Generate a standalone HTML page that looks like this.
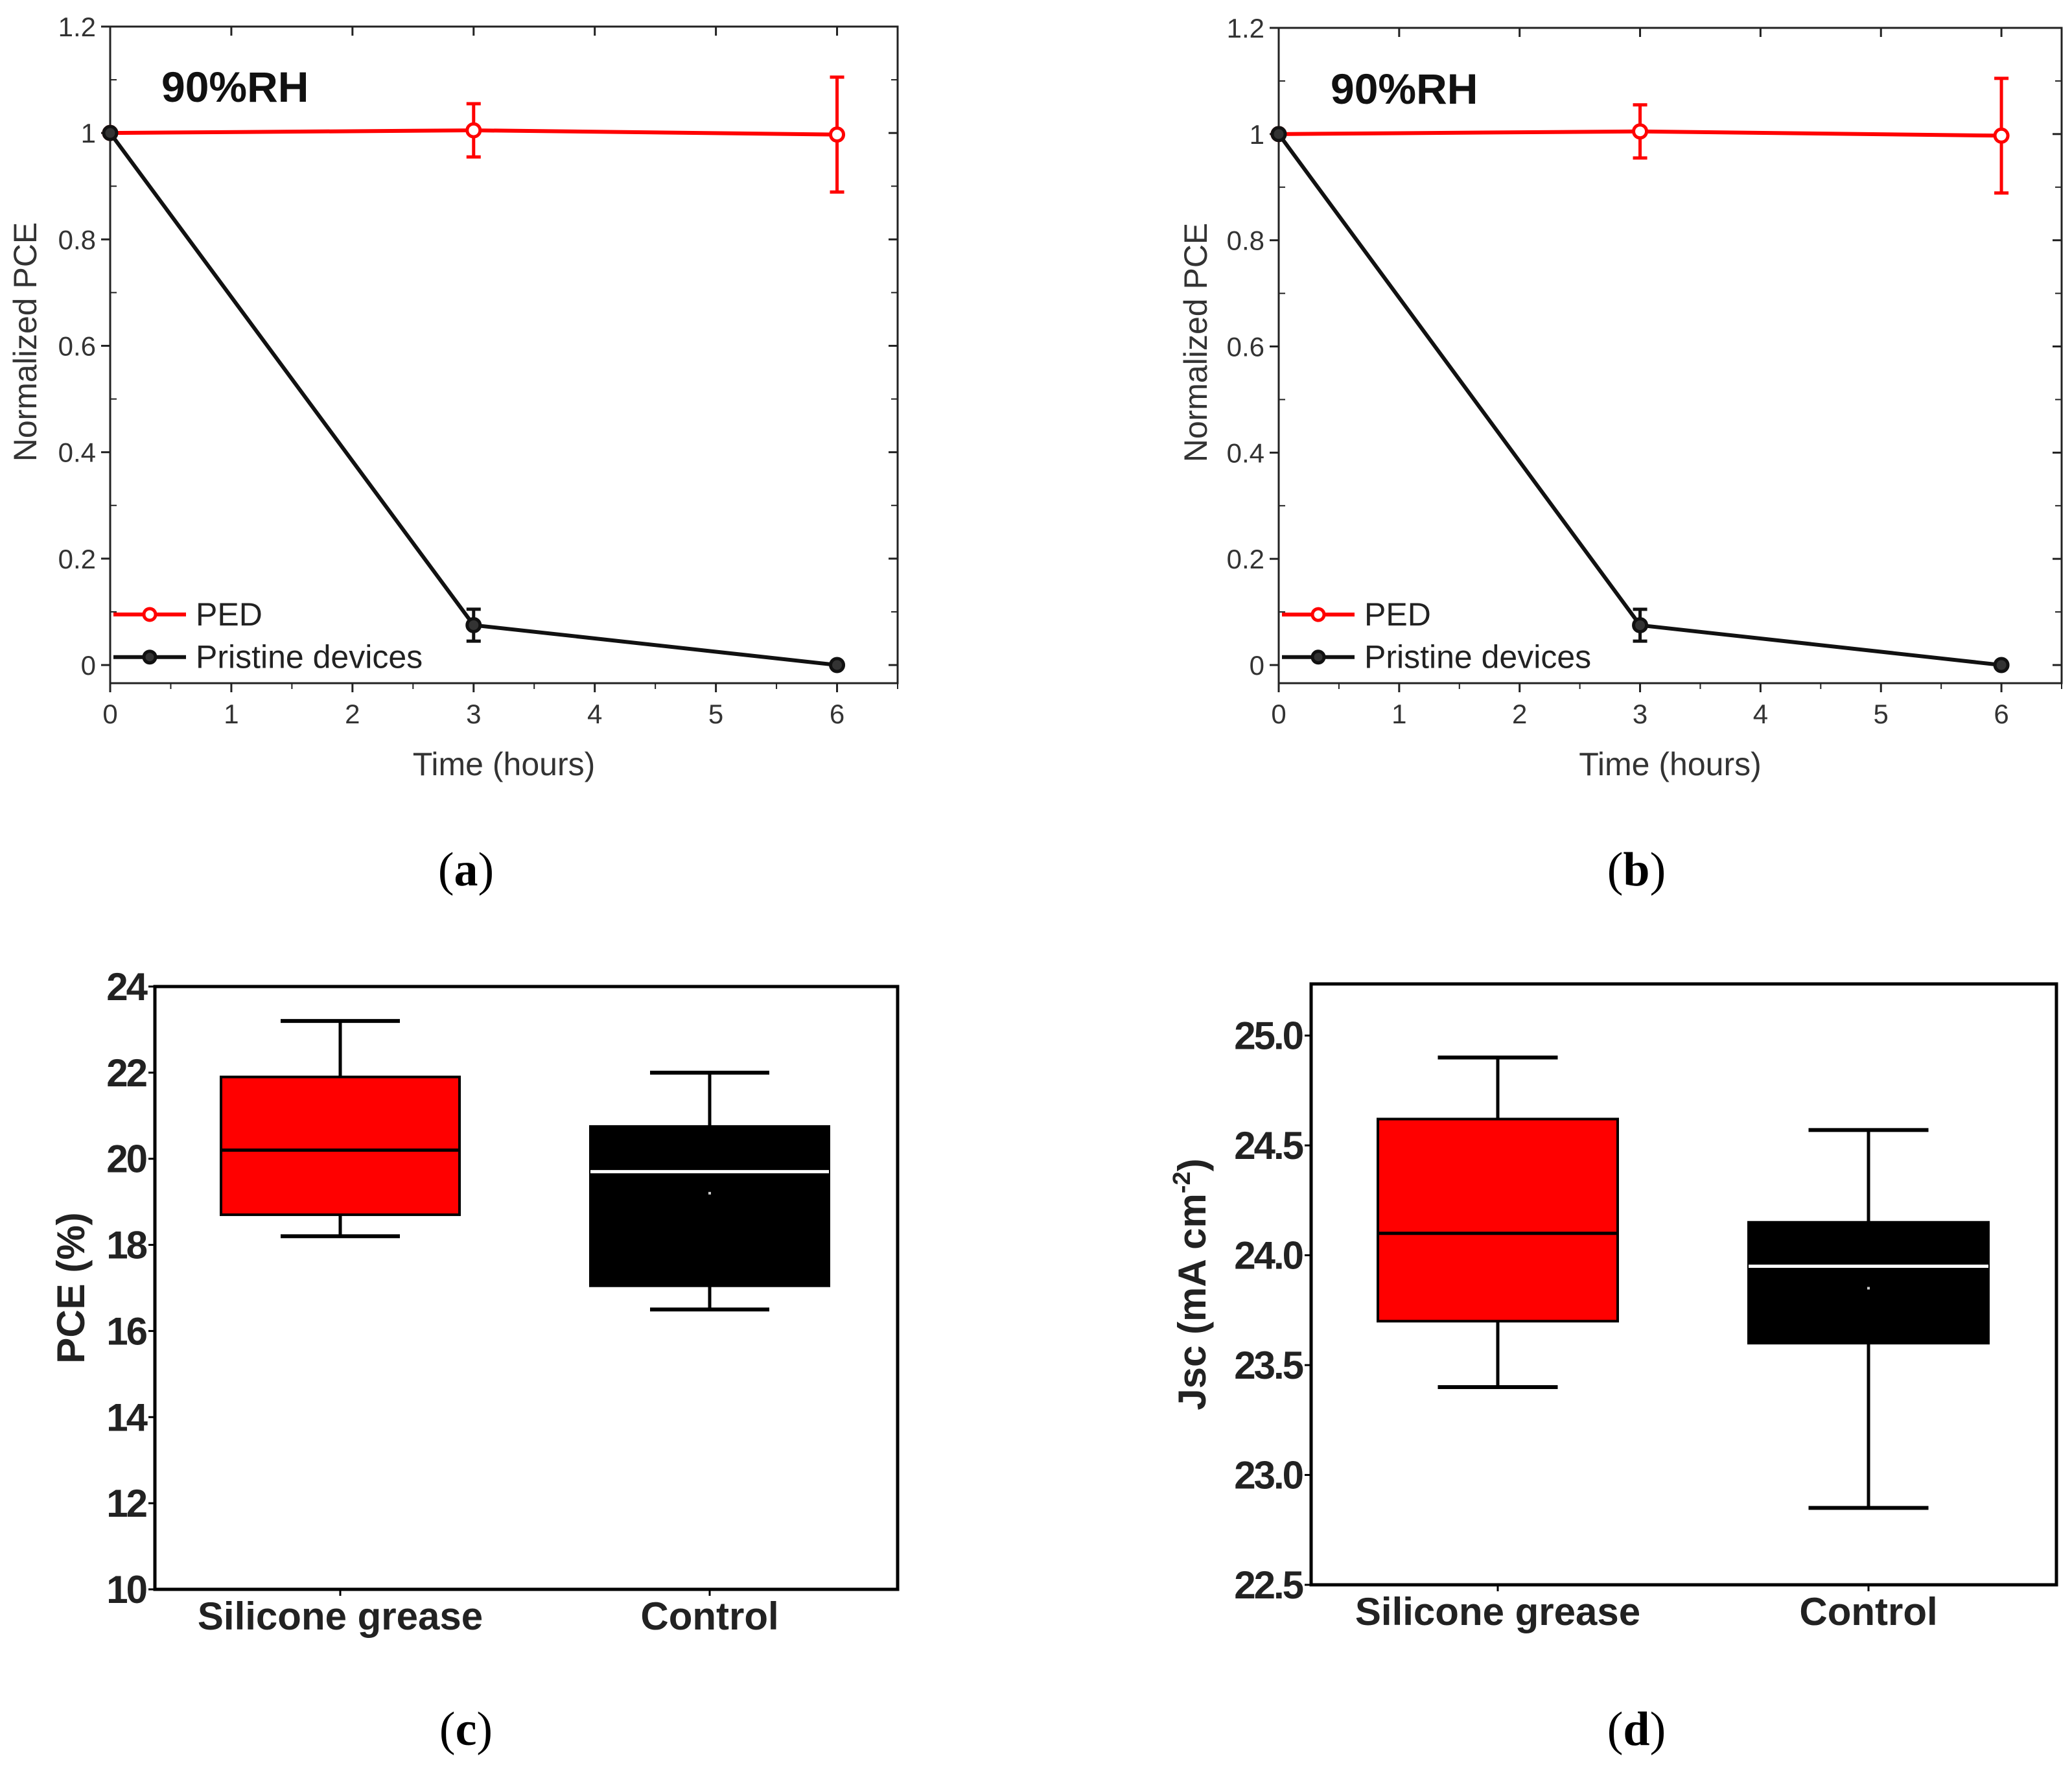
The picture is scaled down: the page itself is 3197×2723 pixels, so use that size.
<!DOCTYPE html>
<html><head><meta charset="utf-8">
<style>
html,body{margin:0;padding:0;background:#fff;}
svg{display:block;font-family:"Liberation Sans",Arial,sans-serif;}
</style></head>
<body>
<svg id="fig" width="3197" height="2723" viewBox="0 0 3197 2723" xmlns="http://www.w3.org/2000/svg">
<rect width="3197" height="2723" fill="#fff"/>
<g id="root"></g>
</svg>
<script>
// ---- data: panels a & b ----
const timeHours = [0, 3, 6];
const pedValues = [1.0, 1.005, 0.997];
const pedErrors = [0, 0.05, 0.108];
const pristineValues = [1.0, 0.075, 0.0];
const pristineErrors = [0, 0.03, 0];
const xTickLabels = ["0","1","2","3","4","5","6"];
const yTickLabelsAB = ["0","0.2","0.4","0.6","0.8","1","1.2"];
// ---- data: panel c ----
const boxCategories = ["Silicone grease", "Control"];
const pceWhiskerHigh = [23.2, 22.0];
const pceQ3 = [21.9, 20.75];
const pceMedian = [20.2, 19.7];
const pceQ1 = [18.7, 17.05];
const pceWhiskerLow = [18.2, 16.5];
const pceMean = [20.3, 19.2];
const pceTicks = ["10","12","14","16","18","20","22","24"];
// ---- data: panel d ----
const jscWhiskerHigh = [24.9, 24.57];
const jscQ3 = [24.62, 24.15];
const jscMedian = [24.1, 23.95];
const jscQ1 = [23.7, 23.6];
const jscWhiskerLow = [23.4, 22.85];
const jscMean = [24.15, 23.85];
const jscTicks = ["22.5","23.0","23.5","24.0","24.5","25.0"];

const NS = "http://www.w3.org/2000/svg";
const root = document.getElementById('root');
function mk(tag, attrs, parent, text){
  const e = document.createElementNS(NS, tag);
  for (const k in attrs) e.setAttribute(k, attrs[k]);
  if (text !== undefined) e.textContent = text;
  (parent || root).appendChild(e);
  return e;
}

function linePanel(id, L, R, T, B, xMax, yMin, yMax, rhX, rhY, ytitleX){
  const g = mk('g', {});
  
  
  const x6 = L + (R - L) * 6 / 6.5;
  const sx = v => L + (x6 - L) * v / 6;
  const sy = v => B - 28 - (B - 28 - T) * (v - yMin) / (yMax - yMin);
  const fr = mk('rect', {x:L, y:T, width:R-L, height:B-T, fill:'none', stroke:'#222', 'stroke-width':3}, g);
  
  
  yTickLabelsAB.forEach((lab, i) => {
    const v = i * 0.2, y = sy(v);
    mk('line', {x1:L-14, x2:L, y1:y, y2:y, stroke:'#222', 'stroke-width':3}, g);
    mk('line', {x1:R-14, x2:R, y1:y, y2:y, stroke:'#222', 'stroke-width':3}, g);
    const mv = sy(v + 0.1);
    if (i < 6) { mk('line', {x1:L, x2:L+10, y1:mv, y2:mv, stroke:'#222', 'stroke-width':2}, g);
                 mk('line', {x1:R-10, x2:R, y1:mv, y2:mv, stroke:'#222', 'stroke-width':2}, g); }
    const t = mk('text', {x:L-22, y:y+15, 'text-anchor':'end', 'font-size':42, fill:'#333'}, g, lab);
    
    
  });
  xTickLabels.forEach((lab, i) => {
    const x = sx(i);
    mk('line', {x1:x, x2:x, y1:B, y2:B+14, stroke:'#222', 'stroke-width':3}, g);
    mk('line', {x1:x, x2:x, y1:T, y2:T+14, stroke:'#222', 'stroke-width':3}, g);
    const mx = sx(i + 0.5);
    mk('line', {x1:mx, x2:mx, y1:B, y2:B+9, stroke:'#222', 'stroke-width':2}, g);
    const t = mk('text', {x:x, y:B+62, 'text-anchor':'middle', 'font-size':42, fill:'#333'}, g, lab);
    
    
  });
  const xt = mk('text', {x:(L+R)/2, y:B+142, 'text-anchor':'middle', 'font-size':50, fill:'#333'}, g, 'Time (hours)');
  
  
  const yc = (T+B)/2 - 20;
  const yt = mk('text', {x:ytitleX, y:yc, 'text-anchor':'middle', 'font-size':50, fill:'#333', transform:`rotate(-90 ${ytitleX} ${yc})`}, g, 'Normalized PCE');
  
  
  const rh = mk('text', {x:rhX, y:rhY, 'font-size':66, 'font-weight':'bold', fill:'#111'}, g, '90%RH');
  
  
  function series(vals, errs, color, name){
    const sg = mk('g', {}, g);
    
    
    mk('polyline', {points: timeHours.map((t,i)=>sx(t)+','+sy(vals[i])).join(' '), fill:'none', stroke:color, 'stroke-width':6}, sg);
    timeHours.forEach((t,i) => {
      const x = sx(t), y = sy(vals[i]);
      if (errs[i] > 0) {
        const y1 = sy(vals[i]+errs[i]), y2 = sy(vals[i]-errs[i]);
        mk('line', {x1:x, x2:x, y1:y1, y2:y2, stroke:color, 'stroke-width':5}, sg);
        mk('line', {x1:x-11, x2:x+11, y1:y1, y2:y1, stroke:color, 'stroke-width':5}, sg);
        mk('line', {x1:x-11, x2:x+11, y1:y2, y2:y2, stroke:color, 'stroke-width':5}, sg);
      }
      const c = mk('circle', {cx:x, cy:y, r:10, fill: color==='#f00' ? '#fff' : '#333', stroke:color, 'stroke-width':5}, sg);
      
      
    });
  }
  series(pedValues, pedErrors, '#f00', 'series-ped');
  series(pristineValues, pristineErrors, '#111', 'series-pristine');
  const lg = mk('g', {}, g);
  
  
  const ly1 = sy(0.095), ly2 = sy(0.015);
  mk('line', {x1:L+5, x2:L+117, y1:ly1, y2:ly1, stroke:'#f00', 'stroke-width':6}, lg);
  mk('circle', {cx:L+61, cy:ly1, r:9, fill:'#fff', stroke:'#f00', 'stroke-width':5}, lg);
  mk('text', {x:L+132, y:ly1+17, 'font-size':50, fill:'#222'}, lg, 'PED');
  mk('line', {x1:L+5, x2:L+117, y1:ly2, y2:ly2, stroke:'#111', 'stroke-width':6}, lg);
  mk('circle', {cx:L+61, cy:ly2, r:9, fill:'#333', stroke:'#111', 'stroke-width':5}, lg);
  mk('text', {x:L+132, y:ly2+17, 'font-size':50, fill:'#222'}, lg, 'Pristine devices');
}

function boxPanel(id, L, R, T, B, yMin, yMax, tickVals, tickLabs, wh, q3, med, q1, wl, mean, centers, halfW, title, ytitleX){
  const g = mk('g', {});
  
  
  const sy = v => B - (B - T) * (v - yMin) / (yMax - yMin);
  const colors = ['#f00', '#000'];
  boxCategories.forEach((cat, i) => {
    const cx = centers[i];
    const bg = mk('g', {}, g);
    
    
    mk('line', {x1:cx, x2:cx, y1:sy(wh[i]), y2:sy(wl[i]), stroke:'#000', 'stroke-width':5}, bg);
    mk('line', {x1:cx-halfW/2, x2:cx+halfW/2, y1:sy(wh[i]), y2:sy(wh[i]), stroke:'#000', 'stroke-width':6}, bg);
    mk('line', {x1:cx-halfW/2, x2:cx+halfW/2, y1:sy(wl[i]), y2:sy(wl[i]), stroke:'#000', 'stroke-width':6}, bg);
    mk('rect', {x:cx-halfW, y:sy(q3[i]), width:2*halfW, height:sy(q1[i])-sy(q3[i]), fill:colors[i], stroke:'#000', 'stroke-width':4}, bg);
    mk('line', {x1:cx-halfW, x2:cx+halfW, y1:sy(med[i]), y2:sy(med[i]), stroke: i===0 ? '#000' : '#fff', 'stroke-width':5}, bg);
    mk('rect', {x:cx-2, y:sy(mean[i])-2, width:4, height:4, fill: i===0 ? '#f00' : '#ccc'}, bg);
    const t = mk('text', {x:cx, y:B+62, 'text-anchor':'middle', 'font-size':60, 'font-weight':'bold', fill:'#222'}, g, cat);
    
    
    mk('line', {x1:cx, x2:cx, y1:B, y2:B+10, stroke:'#000', 'stroke-width':3}, g);
  });
  tickVals.forEach((v, i) => {
    const y = sy(v);
    mk('line', {x1:L-10, x2:L, y1:y, y2:y, stroke:'#000', 'stroke-width':3}, g);
    const t = mk('text', {x:L-14, y:y+21, 'text-anchor':'end', 'font-size':60, 'font-weight':'bold', fill:'#222', 'letter-spacing':-3}, g, tickLabs[i]);
    
    
  });
  const fr = mk('rect', {x:L, y:T, width:R-L, height:B-T, fill:'none', stroke:'#000', 'stroke-width':5}, g);
  
  
  const yc = (T+B)/2;
  const yt = mk('text', {x:ytitleX, y:yc, 'text-anchor':'middle', 'font-size':60, 'font-weight':'bold', fill:'#222', transform:`rotate(-90 ${ytitleX} ${yc})`}, g);
  
  
  if (title === 'jsc') {
    yt.appendChild(document.createTextNode('Jsc (mA cm'));
    const s = document.createElementNS(NS, 'tspan'); s.setAttribute('dy', -24); s.setAttribute('font-size', 38); s.textContent = '-2'; yt.appendChild(s);
    const s2 = document.createElementNS(NS, 'tspan'); s2.setAttribute('dy', 24); s2.textContent = ')'; yt.appendChild(s2);
  } else yt.textContent = title;
}

linePanel('a', 170, 1385, 41, 1054, 6.5, 0, 1.2, 249, 157, 56);
linePanel('b', 1973, 3181, 43, 1054, 6.5, 0, 1.2, 2053, 160, 1862);
boxPanel('c', 239, 1385, 1522, 2452, 10, 24, [10,12,14,16,18,20,22,24], pceTicks,
  pceWhiskerHigh, pceQ3, pceMedian, pceQ1, pceWhiskerLow, pceMean, [525, 1095], 184, 'PCE (%)', 130);
boxPanel('d', 2023, 3173, 1518, 2445, 22.5, 25.235, [22.5,23,23.5,24,24.5,25], jscTicks,
  jscWhiskerHigh, jscQ3, jscMedian, jscQ1, jscWhiskerLow, jscMean, [2311, 2883], 185, 'jsc', 1860);

[['(a)',719,1366],['(b)',2525,1366],['(c)',719,2692],['(d)',2525,2692]].forEach(p => {
  const t = mk('text', {x:p[1], y:p[2], 'text-anchor':'middle', 'font-size':74, 'font-family':'"Liberation Serif",serif', fill:'#000'});
  
  
  t.appendChild(document.createTextNode('('));
  const b = document.createElementNS(NS, 'tspan'); b.setAttribute('font-weight','bold'); b.textContent = p[0][1]; t.appendChild(b);
  t.appendChild(document.createTextNode(')'));
});
</script>
</body></html>
